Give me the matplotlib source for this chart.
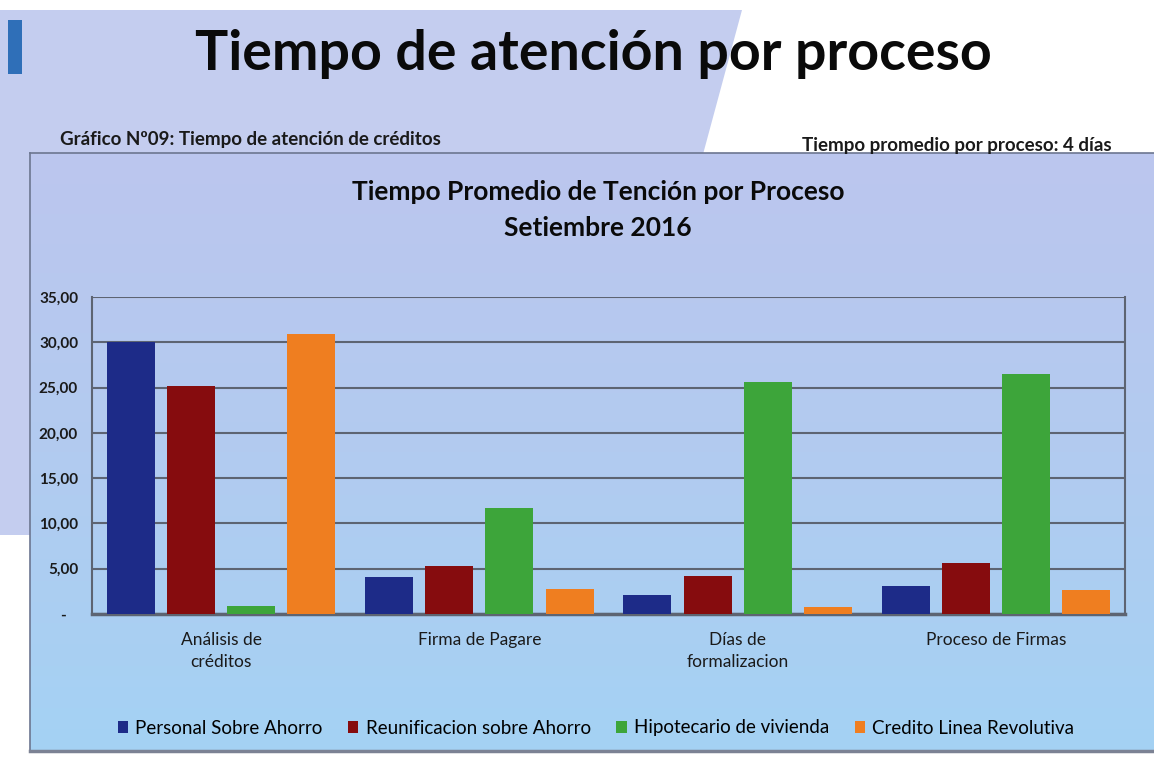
import numpy as np
import matplotlib
matplotlib.use("Agg")
import matplotlib.pyplot as plt
from matplotlib.patches import Polygon, Rectangle
from matplotlib.colors import LinearSegmentedColormap

plt.rcParams["font.family"] = ["Lato", "DejaVu Sans"]

categories = ["Análisis de\ncréditos", "Firma de Pagare", "Días de\nformalizacion", "Proceso de Firmas"]
series_names = ["Personal Sobre Ahorro", "Reunificacion sobre Ahorro", "Hipotecario de vivienda", "Credito Linea Revolutiva"]
personal = [30.0, 4.1, 2.1, 3.1]
reunificacion = [25.2, 5.3, 4.2, 5.6]
hipotecario = [0.9, 11.7, 25.6, 26.5]
revolutiva = [30.9, 2.8, 0.8, 2.7]
yticks = [0, 5, 10, 15, 20, 25, 30, 35]
ytick_labels = ["-   ", "5,00", "10,00", "15,00", "20,00", "25,00", "30,00", "35,00"]

colors = ["#1d2b88", "#860c0e", "#3da53a", "#ef7e20"]

W, H = 1154, 758
fig = plt.figure(figsize=(W / 100, H / 100), dpi=100)
fig.patch.set_facecolor("white")

# background layer in pixel coordinates
bg = fig.add_axes([0, 0, 1, 1], zorder=0)
bg.set_xlim(0, W)
bg.set_ylim(H, 0)
bg.axis("off")

bg.add_patch(Polygon([(0, 10), (742, 10), (702, 158), (30, 158), (30, 535), (0, 535)],
                     closed=True, facecolor="#c4cdef", edgecolor="none"))
bg.add_patch(Rectangle((8, 20), 14, 54, facecolor="#2f6fb8", edgecolor="none"))

# chart box with vertical gradient
grad = LinearSegmentedColormap.from_list("box", ["#bcc6ee", "#b2cbf0", "#a4d2f4"])
g = np.linspace(0, 1, 256).reshape(-1, 1)
bg.imshow(g, cmap=grad, aspect="auto", extent=[30, W, 752, 153], zorder=1)
bg.plot([30, W], [153, 153], color="#6c7690", lw=1.2, zorder=2)
bg.plot([30, 30], [153, 752], color="#6c7690", lw=1.2, zorder=2)
bg.plot([30, W], [751, 751], color="#7c8294", lw=2.5, zorder=2)

fig.text(593 / W, 1 - 54 / H, "Tiempo de atención por proceso", ha="center", va="center",
         fontsize=40, fontweight="bold", color="#0a0a0a")
fig.text(60 / W, 1 - 139 / H, "Gráfico Nº09: Tiempo de atención de créditos", ha="left", va="center",
         fontsize=13.5, fontweight="bold", color="#1a1a1a")
fig.text(1112 / W, 1 - 145 / H, "Tiempo promedio por proceso: 4 días", ha="right", va="center",
         fontsize=13.5, fontweight="bold", color="#1a1a1a")
fig.text(598 / W, 1 - 192 / H, "Tiempo Promedio de Tención por Proceso", ha="center", va="center",
         fontsize=19, fontweight="bold", color="#0a0a0a")
fig.text(598 / W, 1 - 228 / H, "Setiembre 2016", ha="center", va="center",
         fontsize=19, fontweight="bold", color="#0a0a0a")

# plot area
x0, x1, ytop, ybot = 92, 1125, 297, 614
ax = fig.add_axes([x0 / W, 1 - ybot / H, (x1 - x0) / W, (ybot - ytop) / H], zorder=2)
ax.patch.set_alpha(0)

x = np.arange(len(categories))
pitch = 0.233
width = 0.186
for i, (vals, name) in enumerate(zip([personal, reunificacion, hipotecario, revolutiva], series_names)):
    ax.bar(x + (i - 1.5) * pitch, vals, width, color=colors[i], label=name, zorder=3)

ax.set_xlim(-0.5, 3.5)
ax.set_ylim(0, 35)
ax.set_yticks(yticks)
ax.set_yticklabels(ytick_labels, fontsize=11, fontweight="bold", color="#1a1a1a")
ax.set_xticks(x)
ax.set_xticklabels(categories, fontsize=12.5, color="#1a1a1a", linespacing=1.45)
ax.tick_params(axis="both", length=0, pad=10)
ax.tick_params(axis="x", pad=13)
ax.yaxis.grid(True, color="#5d6472", lw=1.5, zorder=1)
for side in ["left", "right", "bottom"]:
    ax.spines[side].set_color("#5d6472")
    ax.spines[side].set_linewidth(1.5)
ax.spines["bottom"].set_linewidth(2.5)
ax.spines["top"].set_visible(False)

fig.legend(loc="center", bbox_to_anchor=(596 / W, 1 - 728 / H), ncol=4, frameon=False,
           fontsize=13.5, handlelength=0.55, handleheight=0.55, handletextpad=0.4,
           columnspacing=1.35)

fig.savefig("out.png", dpi=100)
